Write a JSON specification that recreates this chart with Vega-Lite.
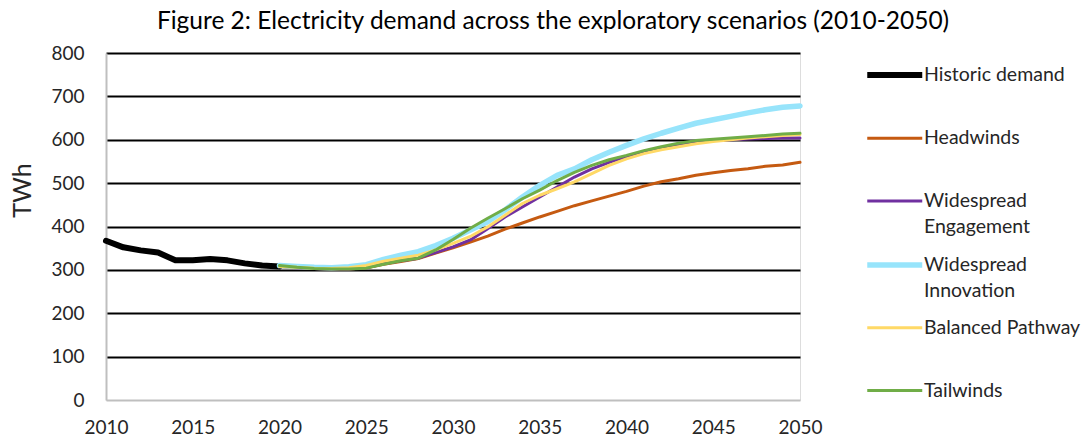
{
  "$schema": "https://vega.github.io/schema/vega-lite/v6.json",
  "autosize": {"type": "none"},
  "width": 694,
  "height": 347,
  "padding": {"left": 106, "top": 53, "right": 285, "bottom": 36},
  "background": "white",
  "title": {
    "text": "Figure 2: Electricity demand across the exploratory scenarios (2010-2050)",
    "font": "Lato", "fontSize": 24.5, "fontWeight": "normal", "color": "#000000",
    "anchor": "middle", "frame": "group", "dx": 100, "offset": 10
  },
  "data": {"values": [
    {"year": 2010, "series": "Historic demand", "twh": 367},
    {"year": 2011, "series": "Historic demand", "twh": 352},
    {"year": 2012, "series": "Historic demand", "twh": 345},
    {"year": 2013, "series": "Historic demand", "twh": 340},
    {"year": 2014, "series": "Historic demand", "twh": 322},
    {"year": 2015, "series": "Historic demand", "twh": 322},
    {"year": 2016, "series": "Historic demand", "twh": 325},
    {"year": 2017, "series": "Historic demand", "twh": 322},
    {"year": 2018, "series": "Historic demand", "twh": 315},
    {"year": 2019, "series": "Historic demand", "twh": 310},
    {"year": 2020, "series": "Historic demand", "twh": 308},

    {"year": 2020, "series": "Headwinds", "twh": 308},
    {"year": 2021, "series": "Headwinds", "twh": 305},
    {"year": 2022, "series": "Headwinds", "twh": 303},
    {"year": 2023, "series": "Headwinds", "twh": 302},
    {"year": 2024, "series": "Headwinds", "twh": 302},
    {"year": 2025, "series": "Headwinds", "twh": 305},
    {"year": 2026, "series": "Headwinds", "twh": 313},
    {"year": 2027, "series": "Headwinds", "twh": 319},
    {"year": 2028, "series": "Headwinds", "twh": 326},
    {"year": 2029, "series": "Headwinds", "twh": 339},
    {"year": 2030, "series": "Headwinds", "twh": 351},
    {"year": 2031, "series": "Headwinds", "twh": 364},
    {"year": 2032, "series": "Headwinds", "twh": 378},
    {"year": 2033, "series": "Headwinds", "twh": 394},
    {"year": 2034, "series": "Headwinds", "twh": 408},
    {"year": 2035, "series": "Headwinds", "twh": 422},
    {"year": 2036, "series": "Headwinds", "twh": 435},
    {"year": 2037, "series": "Headwinds", "twh": 448},
    {"year": 2038, "series": "Headwinds", "twh": 459},
    {"year": 2039, "series": "Headwinds", "twh": 470},
    {"year": 2040, "series": "Headwinds", "twh": 481},
    {"year": 2041, "series": "Headwinds", "twh": 493},
    {"year": 2042, "series": "Headwinds", "twh": 503},
    {"year": 2043, "series": "Headwinds", "twh": 510},
    {"year": 2044, "series": "Headwinds", "twh": 518},
    {"year": 2045, "series": "Headwinds", "twh": 524},
    {"year": 2046, "series": "Headwinds", "twh": 529},
    {"year": 2047, "series": "Headwinds", "twh": 533},
    {"year": 2048, "series": "Headwinds", "twh": 539},
    {"year": 2049, "series": "Headwinds", "twh": 542},
    {"year": 2050, "series": "Headwinds", "twh": 548},

    {"year": 2020, "series": "Widespread Engagement", "twh": 308},
    {"year": 2021, "series": "Widespread Engagement", "twh": 305},
    {"year": 2022, "series": "Widespread Engagement", "twh": 303},
    {"year": 2023, "series": "Widespread Engagement", "twh": 302},
    {"year": 2024, "series": "Widespread Engagement", "twh": 302},
    {"year": 2025, "series": "Widespread Engagement", "twh": 305},
    {"year": 2026, "series": "Widespread Engagement", "twh": 314},
    {"year": 2027, "series": "Widespread Engagement", "twh": 321},
    {"year": 2028, "series": "Widespread Engagement", "twh": 327},
    {"year": 2029, "series": "Widespread Engagement", "twh": 340},
    {"year": 2030, "series": "Widespread Engagement", "twh": 353},
    {"year": 2031, "series": "Widespread Engagement", "twh": 369},
    {"year": 2032, "series": "Widespread Engagement", "twh": 395},
    {"year": 2033, "series": "Widespread Engagement", "twh": 422},
    {"year": 2034, "series": "Widespread Engagement", "twh": 445},
    {"year": 2035, "series": "Widespread Engagement", "twh": 468},
    {"year": 2036, "series": "Widespread Engagement", "twh": 491},
    {"year": 2037, "series": "Widespread Engagement", "twh": 514},
    {"year": 2038, "series": "Widespread Engagement", "twh": 533},
    {"year": 2039, "series": "Widespread Engagement", "twh": 548},
    {"year": 2040, "series": "Widespread Engagement", "twh": 561},
    {"year": 2041, "series": "Widespread Engagement", "twh": 571},
    {"year": 2042, "series": "Widespread Engagement", "twh": 581},
    {"year": 2043, "series": "Widespread Engagement", "twh": 589},
    {"year": 2044, "series": "Widespread Engagement", "twh": 594},
    {"year": 2045, "series": "Widespread Engagement", "twh": 598},
    {"year": 2046, "series": "Widespread Engagement", "twh": 600},
    {"year": 2047, "series": "Widespread Engagement", "twh": 602},
    {"year": 2048, "series": "Widespread Engagement", "twh": 603},
    {"year": 2049, "series": "Widespread Engagement", "twh": 604},
    {"year": 2050, "series": "Widespread Engagement", "twh": 604},

    {"year": 2020, "series": "Widespread Innovation", "twh": 310},
    {"year": 2021, "series": "Widespread Innovation", "twh": 308},
    {"year": 2022, "series": "Widespread Innovation", "twh": 306},
    {"year": 2023, "series": "Widespread Innovation", "twh": 305},
    {"year": 2024, "series": "Widespread Innovation", "twh": 307},
    {"year": 2025, "series": "Widespread Innovation", "twh": 312},
    {"year": 2026, "series": "Widespread Innovation", "twh": 324},
    {"year": 2027, "series": "Widespread Innovation", "twh": 334},
    {"year": 2028, "series": "Widespread Innovation", "twh": 342},
    {"year": 2029, "series": "Widespread Innovation", "twh": 356},
    {"year": 2030, "series": "Widespread Innovation", "twh": 373},
    {"year": 2031, "series": "Widespread Innovation", "twh": 392},
    {"year": 2032, "series": "Widespread Innovation", "twh": 411},
    {"year": 2033, "series": "Widespread Innovation", "twh": 438},
    {"year": 2034, "series": "Widespread Innovation", "twh": 468},
    {"year": 2035, "series": "Widespread Innovation", "twh": 495},
    {"year": 2036, "series": "Widespread Innovation", "twh": 518},
    {"year": 2037, "series": "Widespread Innovation", "twh": 533},
    {"year": 2038, "series": "Widespread Innovation", "twh": 554},
    {"year": 2039, "series": "Widespread Innovation", "twh": 571},
    {"year": 2040, "series": "Widespread Innovation", "twh": 587},
    {"year": 2041, "series": "Widespread Innovation", "twh": 602},
    {"year": 2042, "series": "Widespread Innovation", "twh": 615},
    {"year": 2043, "series": "Widespread Innovation", "twh": 627},
    {"year": 2044, "series": "Widespread Innovation", "twh": 638},
    {"year": 2045, "series": "Widespread Innovation", "twh": 646},
    {"year": 2046, "series": "Widespread Innovation", "twh": 654},
    {"year": 2047, "series": "Widespread Innovation", "twh": 662},
    {"year": 2048, "series": "Widespread Innovation", "twh": 669},
    {"year": 2049, "series": "Widespread Innovation", "twh": 675},
    {"year": 2050, "series": "Widespread Innovation", "twh": 678},

    {"year": 2020, "series": "Balanced Pathway", "twh": 308},
    {"year": 2021, "series": "Balanced Pathway", "twh": 306},
    {"year": 2022, "series": "Balanced Pathway", "twh": 304},
    {"year": 2023, "series": "Balanced Pathway", "twh": 303},
    {"year": 2024, "series": "Balanced Pathway", "twh": 305},
    {"year": 2025, "series": "Balanced Pathway", "twh": 310},
    {"year": 2026, "series": "Balanced Pathway", "twh": 320},
    {"year": 2027, "series": "Balanced Pathway", "twh": 327},
    {"year": 2028, "series": "Balanced Pathway", "twh": 334},
    {"year": 2029, "series": "Balanced Pathway", "twh": 346},
    {"year": 2030, "series": "Balanced Pathway", "twh": 361},
    {"year": 2031, "series": "Balanced Pathway", "twh": 377},
    {"year": 2032, "series": "Balanced Pathway", "twh": 399},
    {"year": 2033, "series": "Balanced Pathway", "twh": 426},
    {"year": 2034, "series": "Balanced Pathway", "twh": 453},
    {"year": 2035, "series": "Balanced Pathway", "twh": 472},
    {"year": 2036, "series": "Balanced Pathway", "twh": 487},
    {"year": 2037, "series": "Balanced Pathway", "twh": 503},
    {"year": 2038, "series": "Balanced Pathway", "twh": 522},
    {"year": 2039, "series": "Balanced Pathway", "twh": 541},
    {"year": 2040, "series": "Balanced Pathway", "twh": 556},
    {"year": 2041, "series": "Balanced Pathway", "twh": 568},
    {"year": 2042, "series": "Balanced Pathway", "twh": 577},
    {"year": 2043, "series": "Balanced Pathway", "twh": 584},
    {"year": 2044, "series": "Balanced Pathway", "twh": 591},
    {"year": 2045, "series": "Balanced Pathway", "twh": 596},
    {"year": 2046, "series": "Balanced Pathway", "twh": 600},
    {"year": 2047, "series": "Balanced Pathway", "twh": 604},
    {"year": 2048, "series": "Balanced Pathway", "twh": 607},
    {"year": 2049, "series": "Balanced Pathway", "twh": 610},
    {"year": 2050, "series": "Balanced Pathway", "twh": 612},

    {"year": 2020, "series": "Tailwinds", "twh": 310},
    {"year": 2021, "series": "Tailwinds", "twh": 306},
    {"year": 2022, "series": "Tailwinds", "twh": 303},
    {"year": 2023, "series": "Tailwinds", "twh": 302},
    {"year": 2024, "series": "Tailwinds", "twh": 302},
    {"year": 2025, "series": "Tailwinds", "twh": 304},
    {"year": 2026, "series": "Tailwinds", "twh": 313},
    {"year": 2027, "series": "Tailwinds", "twh": 321},
    {"year": 2028, "series": "Tailwinds", "twh": 327},
    {"year": 2029, "series": "Tailwinds", "twh": 346},
    {"year": 2030, "series": "Tailwinds", "twh": 370},
    {"year": 2031, "series": "Tailwinds", "twh": 396},
    {"year": 2032, "series": "Tailwinds", "twh": 419},
    {"year": 2033, "series": "Tailwinds", "twh": 441},
    {"year": 2034, "series": "Tailwinds", "twh": 464},
    {"year": 2035, "series": "Tailwinds", "twh": 484},
    {"year": 2036, "series": "Tailwinds", "twh": 506},
    {"year": 2037, "series": "Tailwinds", "twh": 525},
    {"year": 2038, "series": "Tailwinds", "twh": 541},
    {"year": 2039, "series": "Tailwinds", "twh": 554},
    {"year": 2040, "series": "Tailwinds", "twh": 564},
    {"year": 2041, "series": "Tailwinds", "twh": 575},
    {"year": 2042, "series": "Tailwinds", "twh": 584},
    {"year": 2043, "series": "Tailwinds", "twh": 592},
    {"year": 2044, "series": "Tailwinds", "twh": 598},
    {"year": 2045, "series": "Tailwinds", "twh": 601},
    {"year": 2046, "series": "Tailwinds", "twh": 604},
    {"year": 2047, "series": "Tailwinds", "twh": 607},
    {"year": 2048, "series": "Tailwinds", "twh": 610},
    {"year": 2049, "series": "Tailwinds", "twh": 613},
    {"year": 2050, "series": "Tailwinds", "twh": 615}
  ]},
  "mark": {"type": "line", "strokeCap": "round", "strokeJoin": "round"},
  "encoding": {
    "x": {
      "field": "year", "type": "quantitative",
      "scale": {"domain": [2010, 2050], "nice": false, "zero": false},
      "axis": {
        "title": null, "values": [2010, 2015, 2020, 2025, 2030, 2035, 2040, 2045, 2050],
        "format": "d", "labelFont": "Lato", "labelFontSize": 19, "labelColor": "#262626",
        "labelPadding": 18, "ticks": false, "grid": false,
        "domainColor": "#BFBFBF", "domainWidth": 2, "labelFlush": false, "labelOverlap": false
      }
    },
    "y": {
      "field": "twh", "type": "quantitative",
      "scale": {"domain": [0, 800], "nice": false},
      "axis": {
        "title": "TWh", "titleFont": "Lato", "titleFontSize": 25, "titleFontWeight": "normal",
        "titleColor": "#262626", "titleX": -71, "titleY": 137,
        "values": [0, 100, 200, 300, 400, 500, 600, 700, 800],
        "labelFont": "Lato", "labelFontSize": 19, "labelColor": "#262626", "labelPadding": 22,
        "ticks": false, "grid": true,
        "gridColor": {"condition": {"test": "datum.value === 0", "value": "transparent"}, "value": "#000000"},
        "gridWidth": 2, "domainColor": "#BFBFBF", "domainWidth": 2
      }
    },
    "color": {
      "field": "series", "type": "nominal",
      "scale": {
        "domain": ["Historic demand", "Headwinds", "Widespread Engagement", "Widespread Innovation", "Balanced Pathway", "Tailwinds"],
        "range": ["#000000", "#C55A11", "#7030A0", "#97E4FB", "#FFD966", "#70AD47"]
      },
      "legend": {
        "orient": "none", "legendX": 758, "legendY": 5, "title": null,
        "symbolType": "M-1,0H3", "symbolSize": 756, "padding": 0,
        "symbolFillColor": "transparent",
        "labelFont": "Lato", "labelFontSize": 19.5, "labelColor": "#262626", "labelLimit": 300,
        "labelOffset": 26, "rowPadding": 11.8,
        "labelExpr": "datum.label === 'Widespread Engagement' ? ['Widespread', 'Engagement'] : datum.label === 'Widespread Innovation' ? ['Widespread', 'Innovation'] : [datum.label, '']",
        "encode": {"labels": {"update": {"lineHeight": {"value": 26}}}}
      }
    },
    "strokeWidth": {
      "field": "series", "type": "nominal",
      "scale": {
        "type": "ordinal",
        "domain": ["Historic demand", "Headwinds", "Widespread Engagement", "Widespread Innovation", "Balanced Pathway", "Tailwinds"],
        "range": [6, 3, 3, 5.5, 3, 3]
      }
    }
  }
}
